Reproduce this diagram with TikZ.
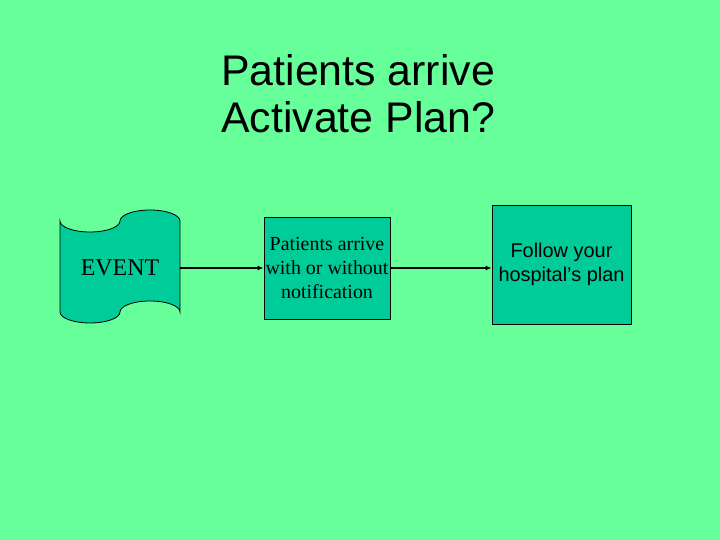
\documentclass[tikz,border=0pt]{standalone}
\usepackage{fontspec}
\setmainfont{Liberation Serif}
\newfontfamily\arialfont{Liberation Sans}
\usepackage{tikz}
\usetikzlibrary{arrows.meta,positioning,calc}
\usepackage{xcolor}
\definecolor{SlideGreen}{HTML}{66FF99}
\definecolor{BoxTeal}{HTML}{00CC99}
\tikzset{
  titlenode/.style={anchor=base west,align=left,inner sep=0pt,font=\arialfont\fontsize{43}{48}\selectfont},
  tapenode/.style={minimum width=120bp,minimum height=90bp,inner sep=0pt,font=\fontsize{24}{28}\selectfont},
  tapeshape/.style={draw=black,fill=BoxTeal,line width=0.8bp},
  stepbox/.style={draw=black,fill=BoxTeal,line width=0.8bp,align=center,inner sep=0pt},
  notebox/.style={stepbox,minimum width=126bp,minimum height=102bp,font=\fontsize{20}{24}\selectfont},
  planbox/.style={stepbox,minimum width=139bp,minimum height=119bp,font=\arialfont\fontsize{20}{24}\selectfont},
  arrow/.style={-{Latex[length=6bp,width=5bp]},line width=1.5bp,draw=black}
}
\begin{document}
\begin{tikzpicture}[x=1bp,y=1bp]
\fill[SlideGreen] (0,0) rectangle (720,540);
\useasboundingbox (0,0) rectangle (720,540);
\node[titlenode] (title) at (221,407) {Patients arrive\\Activate Plan?};
% punched tape shape
\draw[tapeshape] (60,319) arc[start angle=180,end angle=360,x radius=30,y radius=11]
  arc[start angle=180,end angle=0,x radius=30,y radius=11] -- (180,228)
  arc[start angle=0,end angle=180,x radius=30,y radius=11]
  arc[start angle=0,end angle=-180,x radius=30,y radius=11] -- cycle;
\node[tapenode] (event) at (120,272) {EVENT};
\node[notebox] (notify) at (327,272) {Patients arrive\\with or without\\notification};
\node[planbox] (plan) at (561.5,275.5) {Follow your\\hospital’s plan};
\draw[arrow] (event.east) -- (notify.west);
\draw[arrow] (notify.east) -- (notify.east -| plan.west);
\end{tikzpicture}
\end{document}
